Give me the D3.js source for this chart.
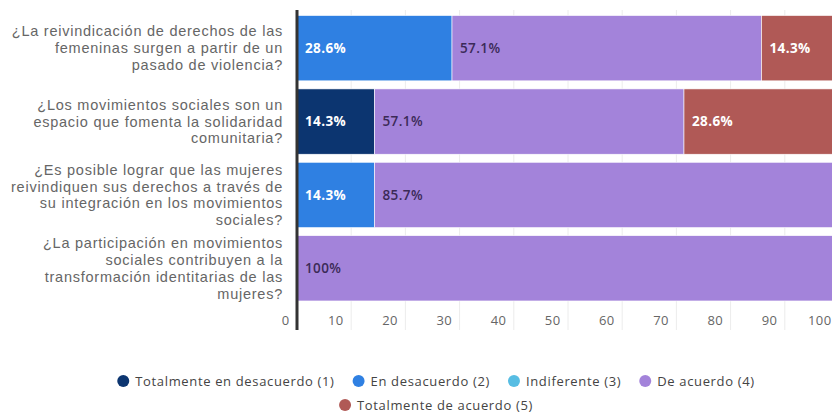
<!DOCTYPE html>
<html><head><meta charset="utf-8">
<script src="https://cdn.jsdelivr.net/npm/d3@7"></script>
<style>
html,body{margin:0;padding:0;background:#fff;overflow:hidden}
svg{display:block}
</style></head>
<body><svg id="c" width="832" height="413"></svg>
<script>
const categories = [
  "¿La reivindicación de derechos de las\nfemeninas surgen a partir de un\npasado de violencia?",
  "¿Los movimientos sociales son un\nespacio que fomenta la solidaridad\ncomunitaria?",
  "¿Es posible lograr que las mujeres\nreivindiquen sus derechos a través de\nsu integración en los movimientos\nsociales?",
  "¿La participación en movimientos\nsociales contribuyen a la\ntransformación identitarias de las\nmujeres?"
];
const seriesNames = ["Totalmente en desacuerdo (1)","En desacuerdo (2)","Indiferente (3)","De acuerdo (4)","Totalmente de acuerdo (5)"];
const totalmenteDesacuerdo = [0, 14.3, 0, 0];
const enDesacuerdo = [28.6, 0, 14.3, 0];
const indiferente = [0, 0, 0, 0];
const deAcuerdo = [57.1, 57.1, 85.7, 100];
const totalmenteAcuerdo = [14.3, 28.6, 0, 0];
const tickValues = [0,10,20,30,40,50,60,70,80,90,100];
const colors = ["#0c3570","#2f80e2","#57bde3","#a383da","#b05956"];
const labelColors = ["#ffffff","#ffffff","#ffffff","#3b2a57","#ffffff"];

const seriesValues = [totalmenteDesacuerdo, enDesacuerdo, indiferente, deAcuerdo, totalmenteAcuerdo];
const rows = categories.map((c,i)=>{const o={cat:c}; seriesNames.forEach((s,j)=>o[s]=seriesValues[j][i]); return o;});
const stack = d3.stack().keys(seriesNames)(rows);

const svg = d3.select("#c");
const x = d3.scaleLinear().domain([0,100]).range([297,839]);
const y = d3.scaleBand().domain(categories).range([11.5,305]).paddingInner(0.11).paddingOuter(0.055);

// gridlines
svg.append("g").selectAll("line").data(tickValues.slice(1)).join("line")
  .attr("x1",d=>x(d)).attr("x2",d=>x(d)).attr("y1",10).attr("y2",330)
  .attr("stroke","#ececec").attr("stroke-width",1);

// bars
const g = svg.append("g");
stack.forEach((layer,j)=>{
  g.append("g").selectAll("rect").data(layer.filter(d=>d[1]-d[0]>0)).join("rect")
    .attr("x",d=>x(d[0])).attr("width",d=>x(d[1])-x(d[0]))
    .attr("y",d=>y(d.data.cat)).attr("height",y.bandwidth())
    .attr("fill",colors[j]).attr("stroke","#fff").attr("stroke-width",0.6);
  g.append("g").selectAll("text").data(layer.filter(d=>d[1]-d[0]>0)).join("text")
    .attr("x",d=>x(d[0])+8).attr("y",d=>y(d.data.cat)+y.bandwidth()/2)
    .attr("dy","0.35em")
    .attr("fill",labelColors[j])
    .attr("font-family","'Open Sans', sans-serif")
    .attr("font-size",13.5).attr("font-weight",j===3?600:700)
    .attr("letter-spacing",0.4)
    .text(d=>{const v=d[1]-d[0]; return (v===100?"100":v.toFixed(1))+"%";});
});

// axis line
svg.append("line").attr("x1",297).attr("x2",297).attr("y1",10).attr("y2",330)
  .attr("stroke","#333").attr("stroke-width",3);

// x tick labels
const xAxis = d3.axisBottom(x).tickValues(tickValues).tickSize(0).tickPadding(0);
const ax = svg.append("g").attr("transform","translate(0,316)").call(xAxis);
ax.select(".domain").remove();
ax.selectAll("text").attr("text-anchor","end").attr("x",-8).attr("dy","0.71em")
  .attr("fill","#666").attr("font-family","'Open Sans', sans-serif").attr("font-size",13)
  .attr("letter-spacing",0.4);

// category labels
const yAxis = d3.axisLeft(y).tickSize(0).tickPadding(0);
const ay = svg.append("g").attr("transform","translate(283,0)").call(yAxis);
ay.select(".domain").remove();
ay.selectAll("text").each(function(d){
  const t = d3.select(this);
  const lines = d.split("\n");
  t.text(null).attr("text-anchor","end").attr("fill","#666")
   .attr("font-family","'Liberation Sans', Arial, sans-serif").attr("font-size",14.5)
   .attr("letter-spacing",0.75).attr("x",0).attr("dy",null);
  const lh = 16.8;
  lines.forEach((l,k)=>{
    t.append("tspan").attr("x",0).attr("y",(k-(lines.length-1)/2)*lh).attr("dy","0.35em").text(l);
  });
});

// legend
const legendRows = [[0,1,2,3],[4]];
const legendY = [381,405];
const legendCenter = 436;
legendRows.forEach((row,r)=>{
  const lg = svg.append("g");
  let cx = 0;
  row.forEach(j=>{
    const it = lg.append("g").attr("transform",`translate(${cx},0)`);
    it.append("circle").attr("cx",6).attr("cy",0).attr("r",6).attr("fill",colors[j]);
    const tx = it.append("text").attr("x",18).attr("y",0).attr("dy","0.35em")
      .attr("fill","#444").attr("font-family","'Open Sans', sans-serif").attr("font-size",13)
      .attr("letter-spacing",0.65).text(seriesNames[j]);
    cx += 18 + tx.node().getComputedTextLength() + 18;
  });
  const w = cx - 18;
  lg.attr("transform",`translate(${legendCenter - w/2},${legendY[r]})`);
});
</script></body></html>
